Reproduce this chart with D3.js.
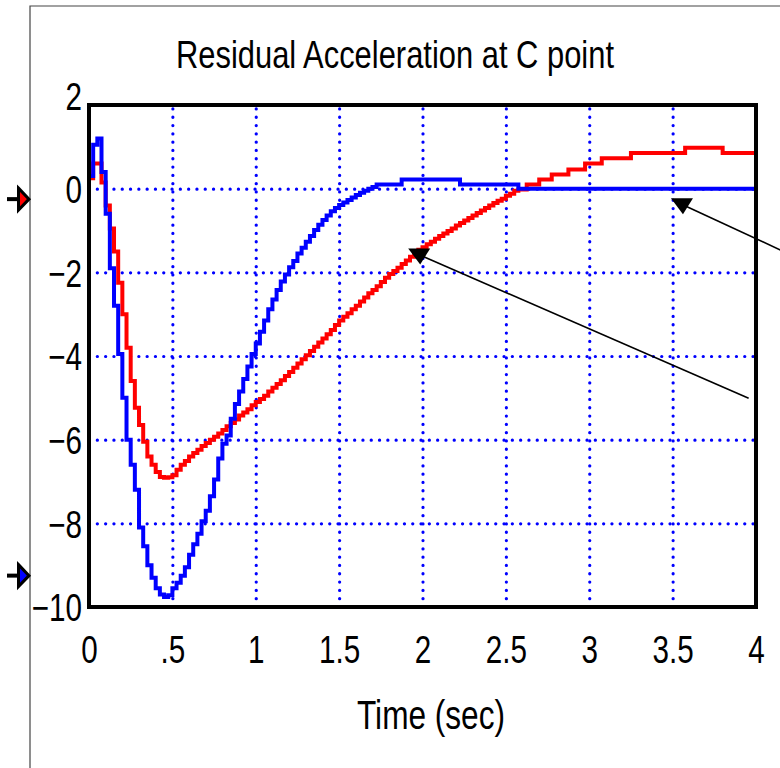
<!DOCTYPE html>
<html>
<head>
<meta charset="utf-8">
<script src="https://cdn.jsdelivr.net/npm/d3@7"></script>
<style>
  body { margin: 0; background: #fff; }
  svg { display: block; }
</style>
</head>
<body>
<svg id="chart"></svg>
<script>
// sample times (sec), one every 0.025 s
const sampleTimes = [
  0, 0.025, 0.05, 0.075, 0.1, 0.125, 0.15, 0.175, 0.2, 0.225, 0.25, 0.275, 0.3, 0.325, 0.35, 0.375,
  0.4, 0.425, 0.45, 0.475, 0.5, 0.525, 0.55, 0.575, 0.6, 0.625, 0.65, 0.675, 0.7, 0.725, 0.75, 0.775,
  0.8, 0.825, 0.85, 0.875, 0.9, 0.925, 0.95, 0.975, 1, 1.025, 1.05, 1.075, 1.1, 1.125, 1.15, 1.175,
  1.2, 1.225, 1.25, 1.275, 1.3, 1.325, 1.35, 1.375, 1.4, 1.425, 1.45, 1.475, 1.5, 1.525, 1.55, 1.575,
  1.6, 1.625, 1.65, 1.675, 1.7, 1.725, 1.75, 1.775, 1.8, 1.825, 1.85, 1.875, 1.9, 1.925, 1.95, 1.975,
  2, 2.025, 2.05, 2.075, 2.1, 2.125, 2.15, 2.175, 2.2, 2.225, 2.25, 2.275, 2.3, 2.325, 2.35, 2.375,
  2.4, 2.425, 2.45, 2.475, 2.5, 2.525, 2.55, 2.575, 2.6, 2.625, 2.65, 2.675, 2.7, 2.725, 2.75, 2.775,
  2.8, 2.825, 2.85, 2.875, 2.9, 2.925, 2.95, 2.975, 3, 3.025, 3.05, 3.075, 3.1, 3.125, 3.15, 3.175,
  3.2, 3.225, 3.25, 3.275, 3.3, 3.325, 3.35, 3.375, 3.4, 3.425, 3.45, 3.475, 3.5, 3.525, 3.55, 3.575,
  3.6, 3.625, 3.65, 3.675, 3.7, 3.725, 3.75, 3.775, 3.8, 3.825, 3.85, 3.875, 3.9, 3.925, 3.95, 3.975,
  4
];

// red trace
const redValues = [
  0.25, 0.6, 0.6, 0.15, -0.4, -0.95, -1.5, -2.25, -3.0, -3.8, -4.6, -5.24, -5.65, -6.05, -6.4, -6.6,
  -6.77, -6.89, -6.91, -6.9, -6.85, -6.72, -6.6, -6.51, -6.4, -6.32, -6.24, -6.15, -6.08, -6.0, -5.93, -5.85,
  -5.77, -5.68, -5.6, -5.52, -5.42, -5.35, -5.27, -5.18, -5.1, -5.03, -4.95, -4.85, -4.76, -4.67, -4.58, -4.48,
  -4.38, -4.28, -4.18, -4.08, -3.98, -3.88, -3.78, -3.68, -3.58, -3.48, -3.38, -3.26, -3.15, -3.06, -2.98, -2.88,
  -2.8, -2.7, -2.6, -2.5, -2.42, -2.33, -2.23, -2.13, -2.04, -1.97, -1.89, -1.8, -1.72, -1.63, -1.54, -1.46,
  -1.4, -1.33, -1.27, -1.2, -1.13, -1.07, -1.01, -0.95, -0.88, -0.82, -0.76, -0.7, -0.64, -0.58, -0.52, -0.46,
  -0.4, -0.34, -0.29, -0.24, -0.17, -0.12, -0.05, -0.02, -0.02, 0.1, 0.1, 0.1, 0.22, 0.22, 0.22, 0.34,
  0.34, 0.34, 0.34, 0.46, 0.46, 0.46, 0.46, 0.6, 0.6, 0.6, 0.6, 0.73, 0.73, 0.73, 0.73, 0.73,
  0.73, 0.73, 0.85, 0.85, 0.85, 0.85, 0.85, 0.85, 0.85, 0.85, 0.85, 0.85, 0.85, 0.85, 0.85, 0.98,
  0.98, 0.98, 0.98, 0.98, 0.98, 0.98, 0.98, 0.98, 0.85, 0.85, 0.85, 0.85, 0.85, 0.85, 0.85, 0.85,
  0.85
];

// blue trace
const blueValues = [
  0.3, 1.05, 1.2, 0.4, -0.6, -1.9, -2.8, -3.95, -5.0, -6.0, -6.6, -7.2, -8.1, -8.55, -9.0, -9.3,
  -9.55, -9.7, -9.76, -9.72, -9.55, -9.42, -9.25, -9.05, -8.75, -8.5, -8.25, -7.95, -7.7, -7.35, -6.95, -6.45,
  -6.1, -5.9, -5.5, -5.15, -4.85, -4.55, -4.25, -3.95, -3.7, -3.42, -3.15, -2.88, -2.65, -2.42, -2.22, -2.05,
  -1.88, -1.73, -1.55, -1.41, -1.27, -1.13, -0.99, -0.86, -0.75, -0.64, -0.54, -0.46, -0.39, -0.33, -0.27, -0.21,
  -0.15, -0.1, -0.05, 0.0, 0.04, 0.1, 0.1, 0.1, 0.1, 0.1, 0.1, 0.22, 0.22, 0.22, 0.22, 0.22,
  0.22, 0.22, 0.22, 0.22, 0.22, 0.22, 0.22, 0.22, 0.22, 0.1, 0.1, 0.1, 0.1, 0.1, 0.1, 0.1,
  0.1, 0.1, 0.1, 0.1, 0.1, 0.1, 0.1, 0, 0, 0, 0, 0, 0, 0, 0, 0,
  0, 0, 0, 0, 0, 0, 0, 0, 0, 0, 0, 0, 0, 0, 0, 0,
  0, 0, 0, 0, 0, 0, 0, 0, 0, 0, 0, 0, 0, 0, 0, 0,
  0, 0, 0, 0, 0, 0, 0, 0, 0, 0, 0, 0, 0, 0, 0, 0,
  0
];

const xTicks = [0, 0.5, 1, 1.5, 2, 2.5, 3, 3.5, 4];
const xTickLabels = ["0", ".5", "1", "1.5", "2", "2.5", "3", "3.5", "4"];
const xGrid = [0.5, 1, 1.5, 2, 2.5, 3, 3.5];
const yTicks = [2, 0, -2, -4, -6, -8, -10];
const yGrid = [0, -2, -4, -6, -8];

// annotation arrows: [time, value] of arrowhead and of line end
const arrowHeads = [[1.98, -1.43], [3.556, -0.23]];
const arrowTails = [[3.956, -5.01], [4.154, -1.48]];

// signal markers on the left edge
const markerValues = [-0.25, -9.25];
const markerColors = ["#ff0000", "#0000ff"];

const titleText = "Residual Acceleration at C point";
const xLabelText = "Time (sec)";

const width = 780;
const height = 768;
const margin = { top: 105, right: 24, bottom: 161, left: 89 };

const svg = d3.select("#chart").attr("width", width).attr("height", height);

const x = d3.scaleLinear().domain([0, 4]).range([margin.left, width - margin.right]);
const y = d3.scaleLinear().domain([-10, 2]).range([height - margin.bottom, margin.top]);

// outer figure frame (thin lines top and left)
svg.append("path")
  .attr("d", `M30,${height}V6H${width}`)
  .attr("fill", "none")
  .attr("stroke", "#444")
  .attr("stroke-width", 1.2);

// dotted grid
const dotted = g => g.selectAll("line")
  .attr("stroke", "#0000ff")
  .attr("stroke-width", 3.2)
  .attr("stroke-linecap", "round")
  .attr("stroke-dasharray", "0.1,8.2");

svg.append("g")
  .attr("transform", `translate(0,${y(-10)})`)
  .call(d3.axisBottom(x).tickValues(xGrid).tickSize(-(y(-10) - y(2))).tickFormat(""))
  .call(g => g.select(".domain").remove())
  .call(dotted);

svg.append("g")
  .attr("transform", `translate(${x(0)},0)`)
  .call(d3.axisLeft(y).tickValues(yGrid).tickSize(-(x(4) - x(0))).tickFormat(""))
  .call(g => g.select(".domain").remove())
  .call(dotted);

// traces
const line = d3.line()
  .x((d, i) => x(sampleTimes[i]))
  .y(d => y(d))
  .curve(d3.curveStepAfter);

svg.append("path")
  .datum(redValues)
  .attr("fill", "none")
  .attr("stroke", "#ff0000")
  .attr("stroke-width", 4)
  .attr("d", line);

svg.append("path")
  .datum(blueValues)
  .attr("fill", "none")
  .attr("stroke", "#0000ff")
  .attr("stroke-width", 4)
  .attr("d", line);

// axes box
svg.append("rect")
  .attr("x", x(0))
  .attr("y", y(2))
  .attr("width", x(4) - x(0))
  .attr("height", y(-10) - y(2))
  .attr("fill", "none")
  .attr("stroke", "#000")
  .attr("stroke-width", 4);

// tick labels
const squeeze = 0.78;

svg.append("g")
  .attr("transform", `translate(0,${y(-10)})`)
  .call(d3.axisBottom(x).tickValues(xTicks).tickFormat((d, i) => xTickLabels[i]).tickSize(0))
  .call(g => g.select(".domain").remove())
  .call(g => g.selectAll("text")
    .attr("y", 56)
    .attr("dy", null)
    .attr("transform", `scale(${squeeze},1)`)
    .attr("fill", "#000")
    .style("font-family", "'Liberation Sans', Arial, sans-serif")
    .style("font-size", "38px"));

svg.append("g")
  .attr("transform", `translate(${x(0)},0)`)
  .call(d3.axisLeft(y).tickValues(yTicks).tickSize(0))
  .call(g => g.select(".domain").remove())
  .call(g => g.selectAll("text")
    .attr("x", -7 / squeeze)
    .attr("dy", (d, i) => i === 0 ? "0.12em" : "0.36em")
    .attr("transform", `scale(${squeeze},1)`)
    .attr("fill", "#000")
    .style("font-family", "'Liberation Sans', Arial, sans-serif")
    .style("font-size", "38px"));

// title and x label
svg.append("text")
  .attr("x", 395)
  .attr("y", 68)
  .attr("text-anchor", "middle")
  .attr("textLength", 438)
  .attr("lengthAdjust", "spacingAndGlyphs")
  .style("font-family", "'Liberation Sans', Arial, sans-serif")
  .style("font-size", "39px")
  .text(titleText);

svg.append("text")
  .attr("x", 431)
  .attr("y", 729)
  .attr("text-anchor", "middle")
  .attr("textLength", 148)
  .attr("lengthAdjust", "spacingAndGlyphs")
  .style("font-family", "'Liberation Sans', Arial, sans-serif")
  .style("font-size", "40px")
  .text(xLabelText);

// annotation arrows
arrowHeads.forEach((h, i) => {
  const hx = x(h[0]);
  const hy = y(h[1]);
  const t = arrowTails[i];
  svg.append("line")
    .attr("x1", hx + 4)
    .attr("y1", hy + 8)
    .attr("x2", x(t[0]))
    .attr("y2", y(t[1]))
    .attr("stroke", "#000")
    .attr("stroke-width", 1.6);
  svg.append("path")
    .attr("d", `M${hx - 11},${hy}L${hx + 11},${hy}L${hx + 1},${hy + 16}Z`)
    .attr("fill", "#000");
});

// left-edge signal markers
markerValues.forEach((v, i) => {
  const my = y(v);
  svg.append("line")
    .attr("x1", 7)
    .attr("x2", 18)
    .attr("y1", my)
    .attr("y2", my)
    .attr("stroke", "#000")
    .attr("stroke-width", 4);
  svg.append("path")
    .attr("d", `M18.5,${my - 11}L29,${my}L18.5,${my + 11}Z`)
    .attr("fill", markerColors[i])
    .attr("stroke", "#000")
    .attr("stroke-width", 3)
    .attr("stroke-linejoin", "miter");
});
</script>
</body>
</html>
